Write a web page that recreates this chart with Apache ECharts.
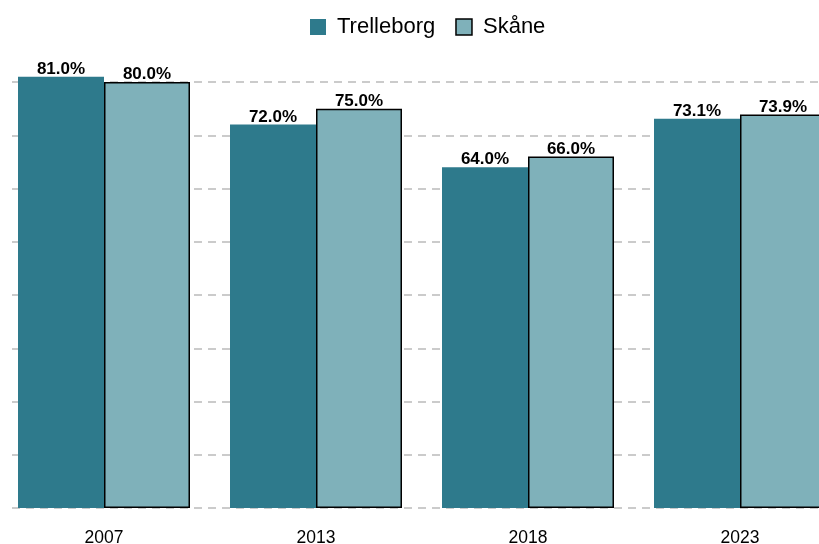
<!DOCTYPE html>
<html>
<head>
<meta charset="UTF-8">
<title>Trelleborg vs Skåne</title>
<script src="https://cdn.jsdelivr.net/npm/echarts@6/dist/echarts.min.js"></script>
</head>
<body style="margin:0">
<div id="main" style="width:819px;height:544px;"></div>
<script>
var years = ['2007', '2013', '2018', '2023'];
var trelleborg = [81.0, 72.0, 64.0, 73.1];
var skane = [80.0, 75.0, 66.0, 73.9];

var chart = echarts.init(document.getElementById('main'));
var font = 'Liberation Sans, Arial, sans-serif';
var lbl = {
    show: true, position: 'top', distance: -1,
    color: '#000', fontWeight: 'bold', fontSize: 17, fontFamily: font,
    formatter: function (p) { return p.value.toFixed(1) + '%'; }
};
chart.setOption({
    backgroundColor: '#fff',
    animation: false,
    legend: {
        top: 11, left: 305,
        icon: 'rect',
        itemWidth: 16, itemHeight: 16, itemGap: 20,
        textStyle: { fontSize: 22, fontFamily: font, color: '#000', padding: [0, 0, 0, 6] },
        data: [
            { name: 'Trelleborg', itemStyle: { borderWidth: 0 } },
            { name: 'Skåne', itemStyle: { borderColor: '#000', borderWidth: 1.5 } }
        ]
    },
    grid: { left: -2, width: 848, top: 28.75, bottom: 36, outerBoundsMode: 'none' },
    xAxis: {
        type: 'category', data: years,
        axisLine: { show: false }, axisTick: { show: false },
        axisLabel: { margin: 21, fontSize: 17.5, color: '#000', fontFamily: font }
    },
    yAxis: {
        type: 'value', min: 0, max: 90, interval: 10,
        axisLabel: { show: false }, axisLine: { show: false }, axisTick: { show: false },
        splitLine: { showMaxLine: false, lineStyle: { color: '#bbb', type: [8, 6], width: 1.5 } }
    },
    graphic: [{
        type: 'rect', left: 0, top: 0, z: 1,
        shape: { width: 10, height: 520 }, style: { fill: '#fff' }
    }],
    series: [
        {
            name: 'Trelleborg', type: 'bar', data: trelleborg,
            barWidth: 86, barGap: '0%', z: 3,
            itemStyle: { color: '#2E7A8C' }, label: lbl
        },
        {
            name: 'Skåne', type: 'bar', data: skane,
            barWidth: 86, z: 3,
            itemStyle: { color: '#7FB1BA', borderColor: '#000', borderWidth: 1.5 }, label: lbl
        }
    ]
});
</script>
</body>
</html>
